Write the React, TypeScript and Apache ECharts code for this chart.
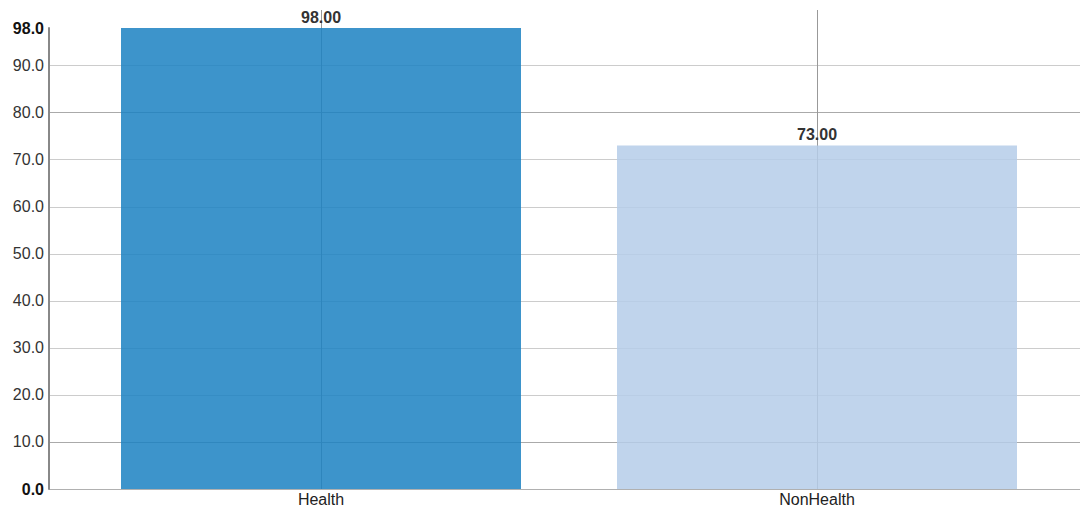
import React, { useEffect, useRef } from "react";
import * as echarts from "echarts";

const categories = ["Health", "NonHealth"];
const values = [98, 73];
const barColors = ["rgba(27,129,194,0.85)", "rgba(181,204,233,0.85)"];
const yMin = 0;
const yMax = 98;
const yInterval = 10;
const guideTop = 101.8;

export default function App() {
  const ref = useRef<HTMLDivElement>(null);
  useEffect(() => {
    if (!ref.current) return;
    const chart = echarts.init(ref.current, undefined, { renderer: "svg" });
    const font = "'Helvetica Neue', Arial, 'Liberation Sans', sans-serif";
    const fmt = (v: number) =>
      v === yMin || v === yMax ? `{b|${v.toFixed(1)}}` : v.toFixed(1);
    chart.setOption({
      animation: false,
      grid: [
        { left: 49, right: 1, top: 28, bottom: 19, containLabel: false },
        { left: 73, right: 16, top: 28, bottom: 19, containLabel: false },
        { left: 73, right: 16, top: 10, bottom: 19, containLabel: false },
      ],
      xAxis: [
        { gridIndex: 0, type: "value", show: false, min: 0, max: 1 },
        {
          gridIndex: 1,
          type: "category",
          data: categories,
          axisLine: { show: false },
          axisTick: { show: false },
          splitLine: { show: false },
          axisLabel: {
            color: "#222",
            fontSize: 16,
            fontFamily: font,
            margin: 2,
          },
        },
        {
          gridIndex: 2,
          type: "category",
          data: categories,
          show: false,
        },
      ],
      yAxis: [
        {
          gridIndex: 0,
          type: "value",
          min: yMin,
          max: yMax,
          interval: yInterval,
          z: 0,
          axisLine: { show: true, lineStyle: { color: "#888", width: 2 } },
          axisTick: { show: false },
          axisLabel: {
            formatter: fmt,
            color: "#333",
            fontSize: 16,
            fontFamily: font,
            margin: 5,
            rich: {
              b: { fontWeight: "bold", fontSize: 16, color: "#111", fontFamily: font },
            },
          },
          splitLine: {
            show: true,
            showMaxLine: false,
            lineStyle: {
              color: [
                "#b0b0b0",
                "#aaaaaa",
                "#cccccc",
                "#cccccc",
                "#cccccc",
                "#cccccc",
                "#cccccc",
                "#cccccc",
                "#aaaaaa",
                "#cccccc",
                "rgba(0,0,0,0)",
              ],
              width: 1,
            },
          },
        },
        {
          gridIndex: 1,
          type: "value",
          min: yMin,
          max: yMax,
          interval: yInterval,
          show: false,
          splitLine: { show: false },
        },
        {
          gridIndex: 2,
          type: "value",
          min: yMin,
          max: guideTop,
          show: false,
          splitLine: { show: false },
        },
      ],
      series: [
        {
          type: "bar",
          xAxisIndex: 1,
          yAxisIndex: 1,
          barWidth: 400,
          z: 3,
          data: values.map((v, i) => ({
            value: v,
            itemStyle: { color: barColors[i] },
          })),
          label: {
            show: true,
            position: "top",
            distance: 3,
            formatter: (p: any) => Number(p.value).toFixed(2),
            color: "#333",
            fontWeight: "bold",
            fontSize: 16,
            fontFamily: font,
          },
        },
        {
          type: "line",
          xAxisIndex: 2,
          yAxisIndex: 2,
          data: values,
          symbol: "none",
          silent: true,
          z: 1,
          lineStyle: { opacity: 0 },
          markLine: {
            silent: true,
            symbol: "none",
            z: 1,
            label: { show: false },
            lineStyle: { color: "#999", width: 1, type: "solid" },
            data: categories.map((c) => ({ xAxis: c })),
          },
        },
      ],
    });
    return () => chart.dispose();
  }, []);
  return (
    <div
      ref={ref}
      style={{ position: "fixed", left: 0, top: 0, width: 1081, height: 508, background: "#fff" }}
    />
  );
}
